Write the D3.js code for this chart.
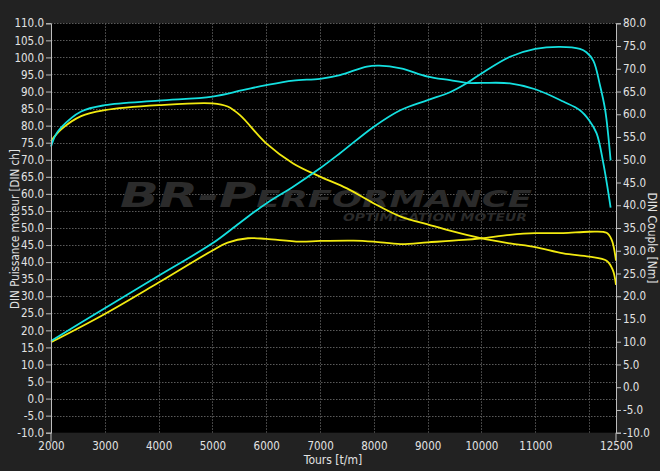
<!DOCTYPE html>
<html><head><meta charset="utf-8">
<script src="https://cdn.jsdelivr.net/npm/d3@7"></script>
<style>
html,body{margin:0;padding:0;background:#222222;}
svg{display:block;}
</style></head>
<body>
<svg id="chart" width="660" height="471"></svg>
<script>
// ---- data ----
const xTicks = [2000,3000,4000,5000,6000,7000,8000,9000,10000,11000,12500];
const xGrid = [3000,4000,5000,6000,7000,8000,9000,10000,11000,12000];
const leftTicks = d3.range(-10, 110.1, 5);
const rightTicks = d3.range(-10, 80.1, 5);

// tuned power (cyan, left axis, ch)
const powerTunedRpm = [2000,3000,4000,5000,5500,6000,6500,7000,7370,8000,8500,9000,9415,9724,10000,10530,11000,11460,11830,11950,12080,12200,12300,12400];
const powerTunedVal = [16.9,26.5,36.0,45.5,51.4,57.2,62.1,67.5,71.9,79.7,84.6,87.5,89.8,92.4,95.3,100.2,102.5,103.1,102.5,101.5,99.0,92.0,84.5,69.8];

// tuned torque (cyan, right axis, Nm)
const torqueTunedRpm = [2000,2080,2190,2560,3000,4000,5000,5560,6000,6500,7000,7370,7870,8100,8500,9000,9415,9724,10000,10530,11000,11520,11830,12000,12140,12265,12400];
const torqueTunedVal = [52.9,55.3,57.1,60.6,62.0,63.0,63.9,65.3,66.4,67.4,67.8,68.6,70.5,70.7,70.1,68.3,67.5,66.9,66.9,66.8,65.5,62.8,60.9,58.7,55.8,49.2,39.5];

// stock power (yellow, left axis, ch)
const powerStockRpm = [2000,3000,4000,5000,5283,5661,6000,6620,7000,7620,8000,8500,9000,9662,10000,10530,11000,11520,12000,12325,12420,12500];
const powerStockVal = [16.5,24.8,34.0,43.4,45.7,47.0,46.8,46.0,46.2,46.3,46.0,45.3,45.8,46.5,47.0,48.0,48.5,48.5,48.9,48.6,46.5,40.4];

// stock torque (yellow, right axis, Nm)
const torqueStockRpm = [2000,2190,2560,3000,4000,5000,5283,5512,6000,6500,7000,7500,8000,8500,9000,9415,10000,10530,11000,11520,12000,12325,12440,12500];
const torqueStockVal = [54.1,56.7,59.6,60.9,62.0,62.4,61.7,59.8,53.6,49.2,46.3,43.7,40.4,37.5,35.8,34.4,32.7,31.6,30.8,29.4,28.7,27.8,25.8,22.5];

const labels = {
  x: "Tours [t/m]",
  left: "DIN Puissance moteur [DIN ch]",
  right: "DIN Couple [Nm]",
  brand1: "BR-P",
  brand2: "ERFORMANCE",
  sub: "OPTIMISATION MOTEUR"
};

// ---- layout ----
const svg = d3.select("#chart");
const W = 660, H = 471;
const L = 51, R = 616, T = 23.3, B = 432.7;
const CYAN = "#14e0e0", YELLOW = "#f2ea10";
const FONT = "'Liberation Sans Narrow','DejaVu Sans Condensed','Liberation Sans',sans-serif";
const TXT = "#e2e2e2";

svg.append("rect").attr("width", W).attr("height", H).attr("fill", "#222222");

const x = d3.scaleLinear().domain([2000, 12500]).range([L, R]);
const yL = d3.scaleLinear().domain([-10, 110]).range([B, T]);
const yR = d3.scaleLinear().domain([-10, 80]).range([B, T]);

svg.append("rect").attr("x", L).attr("y", T).attr("width", R - L).attr("height", B - T).attr("fill", "#000");

// grid
const grid = svg.append("g").attr("stroke", "#5a5a5a").attr("stroke-width", 1).attr("stroke-dasharray", "1.5,1.5");
grid.selectAll("line.h").data(leftTicks.filter(d => d > -10)).join("line")
  .attr("x1", L).attr("x2", R).attr("y1", d => Math.round(yL(d)) + 0.5).attr("y2", d => Math.round(yL(d)) + 0.5);
grid.selectAll("line.v").data(xGrid).join("line")
  .attr("y1", T).attr("y2", B).attr("x1", d => Math.round(x(d)) + 0.5).attr("x2", d => Math.round(x(d)) + 0.5);

// watermark
const wm = svg.append("g").attr("fill", "#2b2b2b").style("font-family", "'DejaVu Sans',sans-serif").style("font-weight", "bold").style("font-style", "italic");
const t1 = wm.append("text").attr("x", 120).attr("y", 206.5).attr("textLength", 412).attr("lengthAdjust", "spacingAndGlyphs");
t1.append("tspan").style("font-size", "33px").text(labels.brand1);
t1.append("tspan").style("font-size", "23px").text(labels.brand2);
wm.append("text").attr("x", 343).attr("y", 220.5).attr("textLength", 184).attr("lengthAdjust", "spacingAndGlyphs")
  .style("font-size", "10.5px").text(labels.sub);

// curves
const line = (scale) => d3.line().x(d => x(d[0])).y(d => scale(d[1])).curve(d3.curveCatmullRom.alpha(0.5));
const zip = (a, b) => a.map((v, i) => [v, b[i]]);
const series = [
  {d: zip(torqueStockRpm, torqueStockVal), s: yR, c: YELLOW},
  {d: zip(powerStockRpm, powerStockVal), s: yL, c: YELLOW},
  {d: zip(torqueTunedRpm, torqueTunedVal), s: yR, c: CYAN},
  {d: zip(powerTunedRpm, powerTunedVal), s: yL, c: CYAN}
];
svg.append("g").selectAll("path").data(series).join("path")
  .attr("d", d => line(d.s)(d.d)).attr("fill", "none").attr("stroke", d => d.c)
  .attr("stroke-width", 1.8).attr("stroke-linejoin", "round");

const fmt = v => v.toFixed(1);

// left axis
const gl = svg.append("g").attr("transform", `translate(${L},0)`)
  .call(d3.axisLeft(yL).tickValues(leftTicks).tickSize(5).tickPadding(2).tickFormat(fmt));
// right axis
const gr = svg.append("g").attr("transform", `translate(${R},0)`)
  .call(d3.axisRight(yR).tickValues(rightTicks).tickSize(5).tickPadding(2).tickFormat(fmt));
// bottom axis
const gb = svg.append("g").attr("transform", `translate(0,${B})`)
  .call(d3.axisBottom(x).tickValues(xTicks).tickSize(0).tickPadding(9).tickFormat(d3.format("d")));
gb.select(".domain").remove();
svg.append("g").selectAll("line").data([2000, 12500]).join("line")
  .attr("x1", d => x(d)).attr("x2", d => x(d)).attr("y1", B).attr("y2", B + 9)
  .attr("stroke", "#bdbdbd");

[gl, gr, gb].forEach(g => {
  g.selectAll(".domain").attr("stroke", "#bdbdbd");
  g.selectAll(".tick line").attr("stroke", "#bdbdbd");
  g.selectAll("text").attr("fill", TXT).style("font-family", FONT).style("font-size", "11.5px");
});

// axis titles
svg.append("text").attr("x", 333).attr("y", 464).attr("text-anchor", "middle")
  .attr("fill", TXT).style("font-family", FONT).style("font-size", "12px").text(labels.x);
svg.append("text").attr("transform", "translate(19,229) rotate(-90)").attr("text-anchor", "middle")
  .attr("fill", TXT).style("font-family", FONT).style("font-size", "11.5px").text(labels.left);
svg.append("text").attr("transform", "translate(648,238) rotate(90)").attr("text-anchor", "middle")
  .attr("fill", TXT).style("font-family", FONT).style("font-size", "12px").text(labels.right);
</script>
</body></html>
